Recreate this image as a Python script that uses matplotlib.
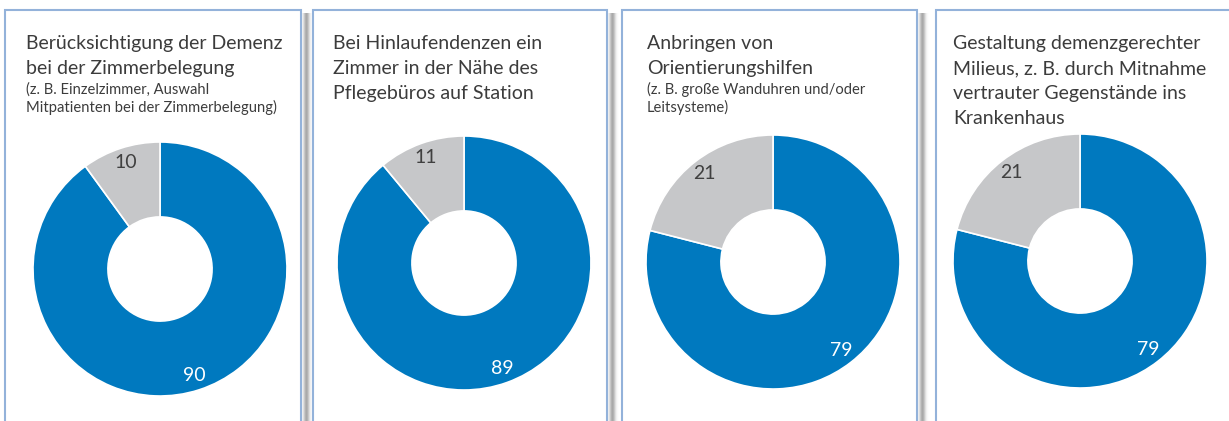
import numpy as np
import matplotlib as mpl
import matplotlib.pyplot as plt
from matplotlib.patches import Rectangle

mpl.rcParams['font.family'] = ['Lato', 'DejaVu Sans']

W, H = 1229, 421

# data
titles = [
    ['Berücksichtigung der Demenz', 'bei der Zimmerbelegung'],
    ['Bei Hinlaufendenzen ein', 'Zimmer in der Nähe des', 'Pflegebüros auf Station'],
    ['Anbringen von', 'Orientierungshilfen'],
    ['Gestaltung demenzgerechter', 'Milieus, z. B. durch Mitnahme',
     'vertrauter Gegenstände ins', 'Krankenhaus'],
]
notes = [
    ['(z. B. Einzelzimmer, Auswahl', 'Mitpatienten bei der Zimmerbelegung)'],
    [],
    ['(z. B. große Wanduhren und/oder', 'Leitsysteme)'],
    [],
]
yes_vals = [90, 89, 79, 79]
no_vals = [10, 11, 21, 21]

blue = '#0079BF'
grey = '#C6C7C9'
border = '#93B2DA'
txt = '#3C3C3C'

# layout in pixels
panel_left = [5, 313, 622, 936]
panel_right = [301, 607, 917, 1233]
text_x = [26, 333, 647, 953]
centers = [(160, 269), (464, 263), (773, 262), (1080, 261)]
R = 127

fig = plt.figure(figsize=(W / 100, H / 100), dpi=100)
bg = fig.add_axes([0, 0, 1, 1])
bg.set_xlim(0, W)
bg.set_ylim(H, 0)
bg.axis('off')

for i in range(4):
    l, r = panel_left[i], panel_right[i]
    # soft shadow on the right side
    for k in range(12):
        a = 0.5 * np.exp(-((k - 5) / 3.0) ** 2)
        bg.add_patch(Rectangle((r + k, 13), 1, 500, facecolor='#555555',
                               edgecolor='none', alpha=a, zorder=1))
    bg.add_patch(Rectangle((l, 10), r - l, 500, facecolor='white',
                           edgecolor=border, linewidth=1.5, zorder=2))

    y = 49
    for line in titles[i]:
        bg.text(text_x[i], y, line, fontsize=14, color=txt, va='baseline', zorder=3)
        y += 25
    y = y - 25 + 20
    for line in notes[i]:
        bg.text(text_x[i], y, line, fontsize=10.6, color=txt, va='baseline', zorder=3)
        y += 18

    cx, cy = centers[i]
    ax = fig.add_axes([(cx - R) / W, 1 - (cy + R) / H, 2 * R / W, 2 * R / H])
    wedges, _, autotexts = ax.pie(
        [yes_vals[i], no_vals[i]], colors=[blue, grey], startangle=90,
        counterclock=False, radius=1.0, autopct=lambda p: f'{p:.0f}',
        pctdistance=0.88,
        wedgeprops=dict(width=0.59, edgecolor='white', linewidth=1.2),
        textprops=dict(fontsize=14))
    autotexts[0].set_color('white')
    autotexts[1].set_color('#404040')
    ax.set_xlim(-1, 1)
    ax.set_ylim(-1, 1)
    ax.set_zorder(5)

fig.savefig('out.png', dpi=100, facecolor='white')
